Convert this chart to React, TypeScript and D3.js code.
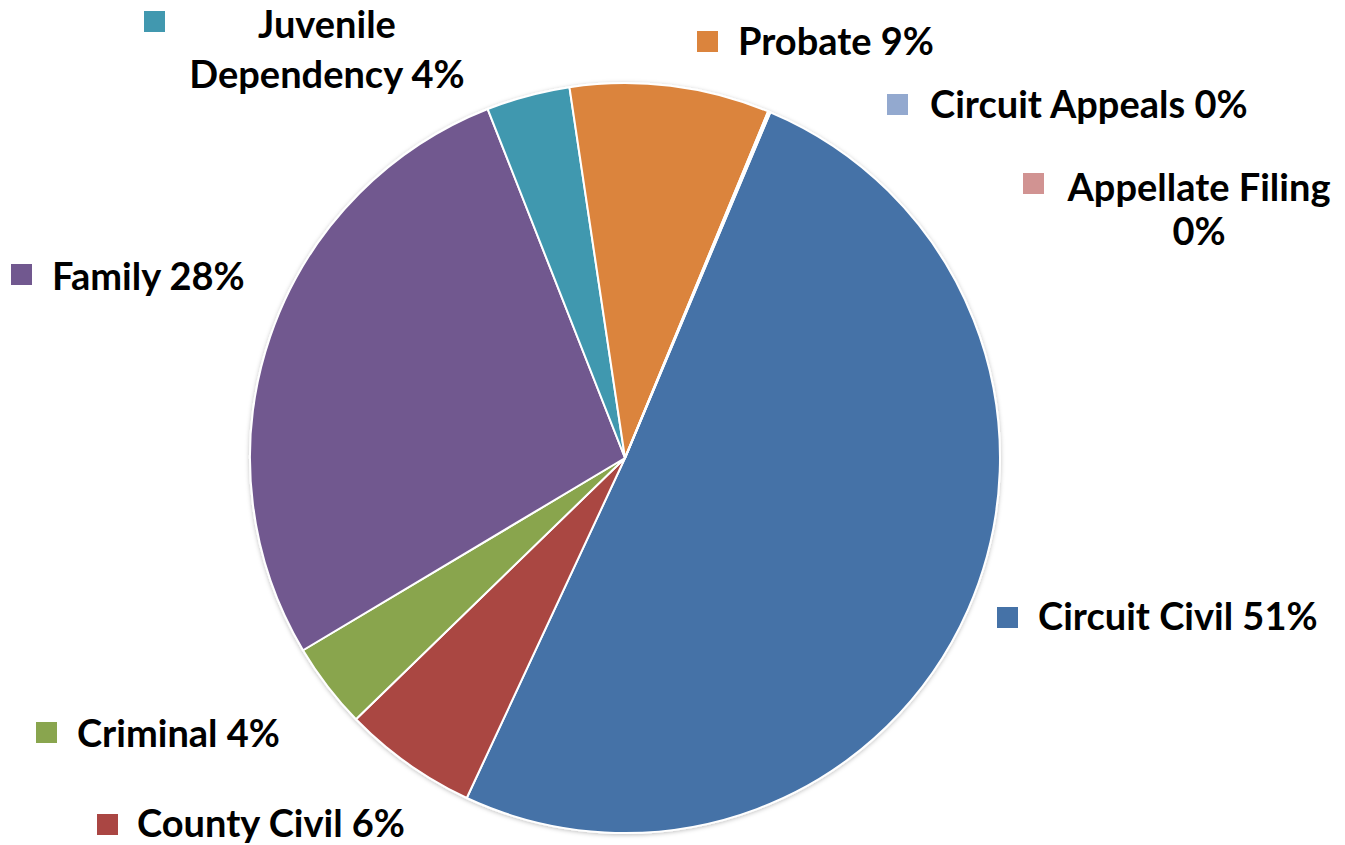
import React from "react";
import * as d3 from "d3";

// case filing mix (percent of total)
const categories = [
  "Circuit Civil",
  "County Civil",
  "Criminal",
  "Family",
  "Juvenile Dependency",
  "Probate",
  "Circuit Appeals",
  "Appellate Filing",
];
const values = [50.6, 5.8, 3.7, 27.6, 3.6, 8.6, 0.05, 0.05];
const colors = [
  "#4572A7",
  "#AA4643",
  "#89A54E",
  "#71588F",
  "#4198AF",
  "#DB843D",
  "#93A9CF",
  "#D19392",
];

// label placement: marker top-left, text lines (x anchor, baselines), centred or not
const labelLayout = [
  { mx: 997, my: 607, lines: ["Circuit Civil 51%"], tx: 1038, ty: [630], center: false },
  { mx: 97, my: 814, lines: ["County Civil 6%"], tx: 137, ty: [837], center: false },
  { mx: 36, my: 722, lines: ["Criminal 4%"], tx: 77, ty: [747], center: false },
  { mx: 11, my: 264, lines: ["Family 28%"], tx: 52, ty: [290], center: false },
  { mx: 144, my: 11, lines: ["Juvenile", "Dependency 4%"], tx: 327, ty: [38, 88], center: true },
  { mx: 697, my: 31, lines: ["Probate 9%"], tx: 738, ty: [55], center: false },
  { mx: 887, my: 94, lines: ["Circuit Appeals 0%"], tx: 930, ty: [118], center: false },
  { mx: 1023, my: 173, lines: ["Appellate Filing", "0%"], tx: 1199, ty: [201, 245], center: true },
];

const W = 1345;
const H = 845;
const cx = 625;
const cy = 458;
const radius = 375;
const startDeg = 22.8;

export default function App() {
  const start = (startDeg * Math.PI) / 180;
  const pie = d3
    .pie<number>()
    .sort(null)
    .value((d) => d)
    .startAngle(start)
    .endAngle(start + 2 * Math.PI);
  const arcs = pie(values);
  const arc = d3.arc<d3.PieArcDatum<number>>().innerRadius(0).outerRadius(radius);

  return (
    <svg
      width={W}
      height={H}
      style={{ position: "absolute", left: 0, top: 0, background: "#fff" }}
      fontFamily="Lato, 'Open Sans', sans-serif"
      fontWeight={700}
    >
      <defs>
        <filter id="shadow" x="-10%" y="-10%" width="120%" height="120%">
          <feDropShadow dx="0" dy="1" stdDeviation="2" floodColor="#000" floodOpacity="0.25" />
        </filter>
      </defs>
      <g transform={`translate(${cx},${cy})`} filter="url(#shadow)">
        {arcs.map((a, i) => (
          <path
            key={categories[i]}
            d={arc(a) ?? ""}
            fill={colors[i]}
            stroke="#fff"
            strokeWidth={2}
            strokeLinejoin="round"
          />
        ))}
      </g>
      {labelLayout.map((l, i) => (
        <g key={categories[i]}>
          <rect x={l.mx} y={l.my} width={21} height={21} fill={colors[i]} />
          {l.lines.map((t, j) => (
            <text
              key={j}
              x={l.tx}
              y={l.ty[j]}
              fontSize={38}
              fill="#000"
              textAnchor={l.center ? "middle" : "start"}
            >
              {t}
            </text>
          ))}
        </g>
      ))}
    </svg>
  );
}
